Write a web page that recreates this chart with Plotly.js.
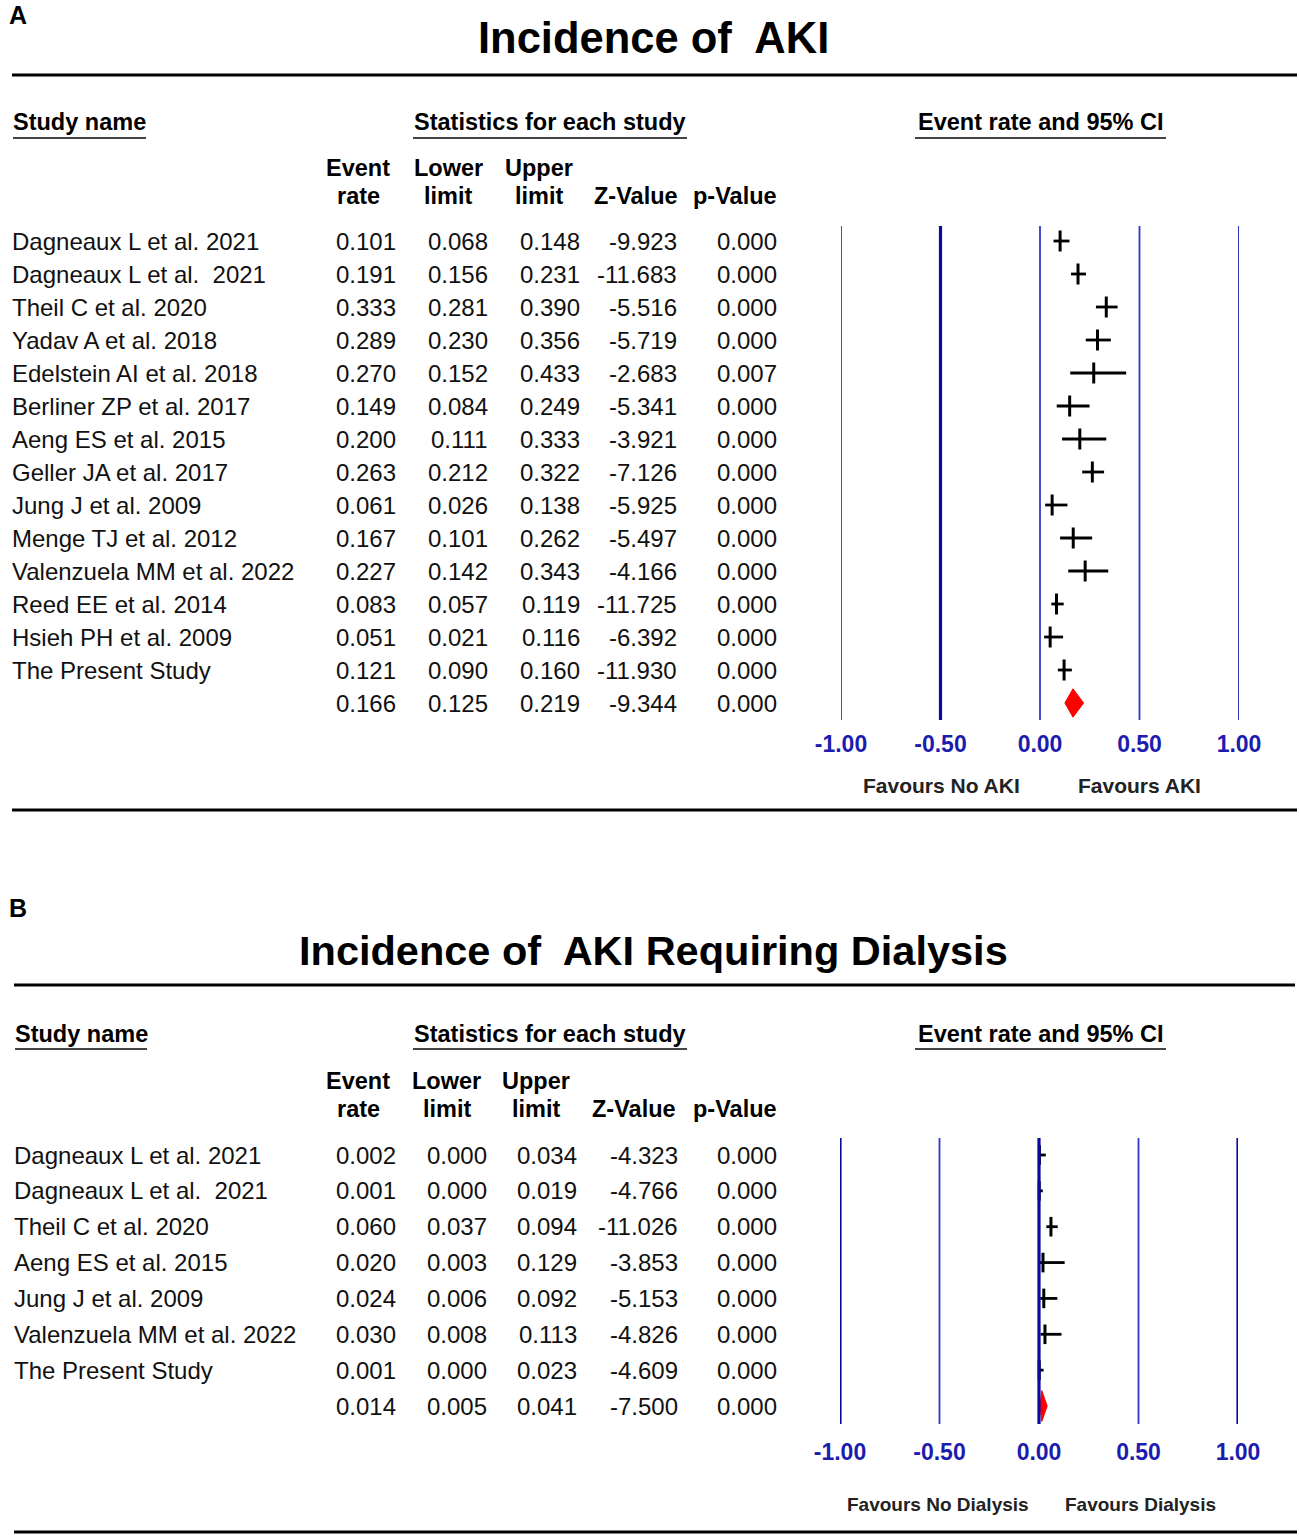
<!DOCTYPE html>
<html>
<head>
<meta charset="utf-8">
<script src="https://cdn.plot.ly/plotly-3.0.1.min.js"></script>
<style>html,body{margin:0;padding:0;background:#fff;}#chart{width:1299px;height:1537px;}</style>
</head>
<body>
<div id="chart"></div>
<script>
// ---------- Panel A data: Incidence of AKI ----------
const studiesA = ["Dagneaux L et al. 2021","Dagneaux L et al.  2021","Theil C et al. 2020","Yadav A et al. 2018","Edelstein AI et al. 2018","Berliner ZP et al. 2017","Aeng ES et al. 2015","Geller JA et al. 2017","Jung J et al. 2009","Menge TJ et al. 2012","Valenzuela MM et al. 2022","Reed EE et al. 2014","Hsieh PH et al. 2009","The Present Study"];
const rateA  = [0.101,0.191,0.333,0.289,0.270,0.149,0.200,0.263,0.061,0.167,0.227,0.083,0.051,0.121];
const lowerA = [0.068,0.156,0.281,0.230,0.152,0.084,0.111,0.212,0.026,0.101,0.142,0.057,0.021,0.090];
const upperA = [0.148,0.231,0.390,0.356,0.433,0.249,0.333,0.322,0.138,0.262,0.343,0.119,0.116,0.160];
const zA     = [-9.923,-11.683,-5.516,-5.719,-2.683,-5.341,-3.921,-7.126,-5.925,-5.497,-4.166,-11.725,-6.392,-11.930];
const pA     = [0.000,0.000,0.000,0.000,0.007,0.000,0.000,0.000,0.000,0.000,0.000,0.000,0.000,0.000];
const summaryA = {rate:0.166, lower:0.125, upper:0.219, z:-9.344, p:0.000};

// ---------- Panel B data: Incidence of AKI requiring dialysis ----------
const studiesB = ["Dagneaux L et al. 2021","Dagneaux L et al.  2021","Theil C et al. 2020","Aeng ES et al. 2015","Jung J et al. 2009","Valenzuela MM et al. 2022","The Present Study"];
const rateB  = [0.002,0.001,0.060,0.020,0.024,0.030,0.001];
const lowerB = [0.000,0.000,0.037,0.003,0.006,0.008,0.000];
const upperB = [0.034,0.019,0.094,0.129,0.092,0.113,0.023];
const zB     = [-4.323,-4.766,-11.026,-3.853,-5.153,-4.826,-4.609];
const pB     = [0.000,0.000,0.000,0.000,0.000,0.000,0.000];
const summaryB = {rate:0.014, lower:0.005, upper:0.041, z:-7.500, p:0.000};

const tickVals = [-1,-0.5,0,0.5,1];
const colHeaders1 = ["Event","Lower","Upper","",""];
const colHeaders2 = ["rate","limit","limit","Z-Value","p-Value"];

// ---------- layout helpers ----------
const W = 1299, H = 1537;
const px = x => x / W;
const py = y => 1 - y / H;
const FONT = "Liberation Sans, Arial, sans-serif";
const TXT = "#111";

const traces = [];
const annotations = [];
const shapes = [];

function addPanel(cfg) {
  const n = cfg.names.length;
  const idx = cfg.names.map((_, i) => i);
  // studies
  traces.push({
    type: "scatter", mode: "markers", xaxis: cfg.xa, yaxis: cfg.ya,
    x: cfg.rate, y: idx, hoverinfo: "skip", showlegend: false,
    marker: {symbol: "line-ns-open", size: cfg.tick, color: "#000", line: {color: "#000", width: 3}},
    error_x: {type: "data", symmetric: false,
      array: cfg.rate.map((r, i) => cfg.upper[i] - r),
      arrayminus: cfg.rate.map((r, i) => r - cfg.lower[i]),
      color: "#000", thickness: 2.8, width: 0}
  });
  // summary diamond
  const s = cfg.summary, h = 0.43;
  traces.push({
    type: "scatter", mode: "lines", xaxis: cfg.xa, yaxis: cfg.ya, fill: "toself",
    fillcolor: "#ff0000", line: {color: "#ff0000", width: 1},
    x: [s.lower, s.rate, s.upper, s.rate, s.lower],
    y: [n, n - h, n, n + h, n], hoverinfo: "skip", showlegend: false
  });
  // vertical reference lines
  tickVals.forEach((v, i) => {
    shapes.push({type: "line", layer: "above", xref: cfg.xa, yref: cfg.ya + " domain",
      x0: v, x1: v, y0: 0, y1: 1,
      line: {color: cfg.lineW[i] > 2 ? "#0a0aa0" : "#3535c8", width: cfg.lineW[i]}});
  });
  // table text
  const rows = cfg.names.concat([""]);
  const allRate = cfg.rate.concat([s.rate]);
  const allLow = cfg.lower.concat([s.lower]);
  const allUp = cfg.upper.concat([s.upper]);
  const allZ = cfg.z.concat([s.z]);
  const allP = cfg.p.concat([s.p]);
  rows.forEach((name, i) => {
    if (name) annotations.push({xref: "paper", yref: cfg.ya, x: px(cfg.nameX), y: i,
      xanchor: "left", yanchor: "middle", text: name, showarrow: false,
      font: {family: FONT, size: 24, color: TXT}});
    [allRate[i], allLow[i], allUp[i], allZ[i], allP[i]].forEach((v, c) => {
      annotations.push({xref: "paper", yref: cfg.ya, x: px(cfg.colRight[c]), y: i,
        xanchor: "right", yanchor: "middle", text: v.toFixed(3), showarrow: false,
        font: {family: FONT, size: 24, color: TXT}});
    });
  });
  // column headers
  colHeaders1.forEach((t, c) => {
    if (t) annotations.push({xref: "paper", yref: "paper", x: px(cfg.colCenter[c]), y: py(cfg.hdr1Y),
      xanchor: "center", yanchor: "middle", text: "<b>" + t + "</b>", showarrow: false,
      font: {family: FONT, size: 23.5, color: "#000"}});
  });
  colHeaders2.forEach((t, c) => {
    annotations.push({xref: "paper", yref: "paper", x: px(cfg.colCenter[c]), y: py(cfg.hdr2Y),
      xanchor: "center", yanchor: "middle", text: "<b>" + t + "</b>", showarrow: false,
      font: {family: FONT, size: 23.5, color: "#000"}});
  });
  // section headers with underlines
  cfg.sections.forEach(sec => {
    annotations.push({xref: "paper", yref: "paper", x: px((sec.x0 + sec.x1) / 2), y: py(cfg.secY),
      xanchor: "center", yanchor: "middle", text: "<b>" + sec.text + "</b>", showarrow: false,
      font: {family: FONT, size: 23.5, color: "#000"}});
    shapes.push({type: "line", xref: "paper", yref: "paper", x0: px(sec.x0), x1: px(sec.x1),
      y0: py(cfg.ulY), y1: py(cfg.ulY), line: {color: "#444", width: 1.8}});
  });
  // panel letter + title
  annotations.push({xref: "paper", yref: "paper", x: px(7), y: py(cfg.letterY), xanchor: "left", yanchor: "middle",
    text: "<b>" + cfg.letter + "</b>", showarrow: false, font: {family: FONT, size: 25, color: "#000"}});
  annotations.push({xref: "paper", yref: "paper", x: px(653), y: py(cfg.titleY), xanchor: "center", yanchor: "middle",
    text: "<b>" + cfg.title + "</b>", showarrow: false, font: {family: FONT, size: cfg.titleSize, color: "#000"}});
  // favours labels
  cfg.favours.forEach(f => {
    annotations.push({xref: "paper", yref: "paper", x: px(f.x), y: py(cfg.favY), xanchor: "center", yanchor: "middle",
      text: "<b>" + f.text + "</b>", showarrow: false, font: {family: FONT, size: cfg.favSize, color: "#222"}});
  });
  // horizontal rules
  cfg.rules.forEach(r => {
    shapes.push({type: "line", xref: "paper", yref: "paper", x0: px(r.x0), x1: px(r.x1),
      y0: py(r.y), y1: py(r.y), line: {color: "#000", width: 2.8}});
  });
}

addPanel({
  letter: "A", letterY: 15, title: "Incidence of&nbsp; AKI", titleY: 38, titleSize: 43.5,
  names: studiesA, rate: rateA, lower: lowerA, upper: upperA, z: zA, p: pA, summary: summaryA,
  xa: "x", ya: "y", tick: 15, lineW: [1.8, 3.2, 1.8, 1.8, 2.0],
  nameX: 10, colRight: [398, 490, 582, 679, 779], colCenter: [358, 448, 539, 636, 735],
  hdr1Y: 168, hdr2Y: 196, secY: 122, ulY: 138,
  sections: [{text: "Study name", x0: 13, x1: 146}, {text: "Statistics for each study", x0: 413, x1: 687},
             {text: "Event rate and 95% CI", x0: 915, x1: 1166}],
  favY: 785, favSize: 21,
  favours: [{text: "Favours No AKI", x: 941}, {text: "Favours AKI", x: 1139}],
  rules: [{y: 75, x0: 12, x1: 1297}, {y: 810, x0: 12, x1: 1297}]
});

addPanel({
  letter: "B", letterY: 908, title: "Incidence of&nbsp; AKI Requiring Dialysis", titleY: 950, titleSize: 41.5,
  names: studiesB, rate: rateB, lower: lowerB, upper: upperB, z: zB, p: pB, summary: summaryB,
  xa: "x2", ya: "y2", tick: 14, lineW: [3.2, 1.8, 3.2, 1.8, 3.2],
  nameX: 12, colRight: [398, 489, 579, 680, 779], colCenter: [358, 447, 536, 634, 735],
  hdr1Y: 1081, hdr2Y: 1109, secY: 1034, ulY: 1049,
  sections: [{text: "Study name", x0: 15, x1: 147}, {text: "Statistics for each study", x0: 413, x1: 687},
             {text: "Event rate and 95% CI", x0: 915, x1: 1166}],
  favY: 1504, favSize: 19,
  favours: [{text: "Favours No Dialysis", x: 938}, {text: "Favours Dialysis", x: 1140}],
  rules: [{y: 985, x0: 14, x1: 1295}, {y: 1532, x0: 14, x1: 1297}]
});

const tickText = tickVals.map(v => v.toFixed(2));
const xAxisBase = {
  range: [-1, 1], tickvals: tickVals, ticktext: tickText, ticks: "", showgrid: false, zeroline: false,
  showline: false, fixedrange: true, ticklabelstandoff: 8,
  tickfont: {family: FONT, size: 23, color: "#1c1cae", weight: "bold"}
};

const layout = {
  width: W, height: H, margin: {l: 0, r: 0, t: 0, b: 0},
  paper_bgcolor: "#fff", plot_bgcolor: "rgba(0,0,0,0)", showlegend: false,
  xaxis: Object.assign({}, xAxisBase, {domain: [px(841), px(1239)], anchor: "y"}),
  yaxis: {domain: [py(720), py(226)], range: [studiesA.length + 17 / 33, -15 / 33], visible: false, fixedrange: true},
  xaxis2: Object.assign({}, xAxisBase, {domain: [px(840), px(1238)], anchor: "y2", ticklabelstandoff: 12}),
  yaxis2: {domain: [py(1424), py(1138)], range: [studiesB.length + 18 / 35.86, -17 / 35.86], visible: false, fixedrange: true},
  annotations: annotations, shapes: shapes
};

Plotly.newPlot("chart", traces, layout, {displayModeBar: false, staticPlot: true});
</script>
</body>
</html>
